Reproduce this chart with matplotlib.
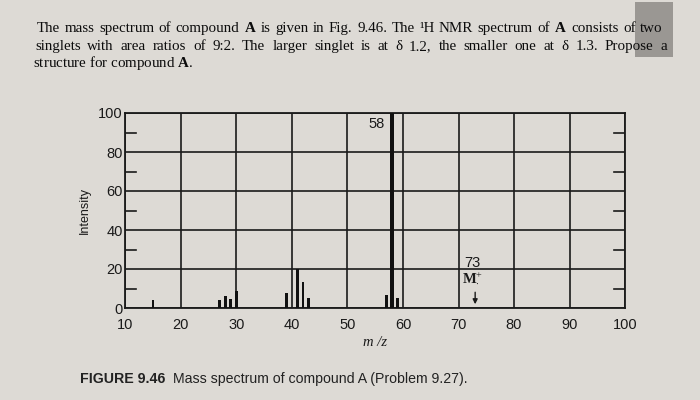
import matplotlib
matplotlib.use("Agg")
import matplotlib.pyplot as plt
from matplotlib.patches import Rectangle

# ---- data ----
mz = [15, 27, 28, 29, 30, 39, 41, 42, 43, 57, 58, 59]
intensity = [4, 4, 6, 4.5, 8.5, 7.5, 20, 13.5, 5, 6.5, 100, 5]
x_ticks = [10, 20, 30, 40, 50, 60, 70, 80, 90, 100]
y_ticks = [0, 20, 40, 60, 80, 100]
minor_y = [10, 30, 50, 70, 90]
mol_ion = 73
base_peak = 58

plt.rcParams['mathtext.fontset'] = 'custom'
plt.rcParams['mathtext.rm'] = 'Liberation Serif'
plt.rcParams['mathtext.bf'] = 'Liberation Serif:bold'
plt.rcParams['mathtext.it'] = 'Liberation Serif:italic'

bg = '#dddad5'
W, H = 700, 400
fig = plt.figure(figsize=(7, 4), dpi=100, facecolor=bg)
renderer = fig.canvas.get_renderer()

# scan smudge at top right
fig.patches.append(Rectangle((635/W, 1-57/H), 38/W, 55/H,
                             transform=fig.transFigure, facecolor='#9a9793',
                             edgecolor='none', zorder=0))

serif = 'Liberation Serif'
fs = 10.8
txtcol = '#0c0c0c'


def justified(line, x0, x1, ybase):
    words = line.split(' ')
    objs = [fig.text(0, 1-ybase/H, w, family=serif, fontsize=fs,
                     va='baseline', ha='left', color=txtcol) for w in words]
    widths = [o.get_window_extent(renderer).width for o in objs]
    gap = ((x1 - x0) - sum(widths)) / (len(words) - 1)
    x = x0
    for o, wdt in zip(objs, widths):
        o.set_x(x / W)
        x += wdt + gap


justified(r"The mass spectrum of compound $\mathbf{A}$ is given in Fig. 9.46. The ¹H NMR spectrum of $\mathbf{A}$ consists of two",
          37, 663, 32)
justified("singlets with area ratios of 9:2. The larger singlet is at δ 1.2, the smaller one at δ 1.3. Propose a",
          35, 667, 50)
fig.text(33/W, 1-67/H, r"structure for compound $\mathbf{A}$.",
         family=serif, fontsize=fs, va='baseline', ha='left', color=txtcol)

ax = fig.add_axes([0.179, 0.23, 0.714, 0.4875])
ax.set_facecolor(bg)
ax.set_xlim(10, 100)
ax.set_ylim(0, 100)

for x in x_ticks:
    ax.axvline(x, color='#1a1a1a', lw=1.2, zorder=1)
for y in y_ticks:
    ax.axhline(y, color='#1a1a1a', lw=1.2, zorder=1)

widths = [0.8 if m == base_peak else 0.5 for m in mz]
ax.bar(mz, intensity, width=widths, color='#111111', zorder=3)

# minor ticks inside on both sides
for y in minor_y:
    ax.plot([10, 12], [y, y], color='#1a1a1a', lw=1.2, zorder=2)
    ax.plot([98, 100], [y, y], color='#1a1a1a', lw=1.2, zorder=2)

for s in ax.spines.values():
    s.set_color('#1a1a1a')
    s.set_linewidth(1.3)

sans = 'Liberation Sans'
ax.set_xticks(x_ticks)
ax.set_yticks(y_ticks)
ax.tick_params(axis='x', length=0, labelsize=10.5, colors='#1a1a1a', pad=7)
ax.tick_params(axis='y', length=0, labelsize=10.5, colors='#1a1a1a', pad=2)
for lab in ax.get_xticklabels() + ax.get_yticklabels():
    lab.set_family(sans)

ax.text(base_peak - 1.3, 98, str(base_peak), ha='right', va='top',
        family=sans, fontsize=10.5, color='#1a1a1a')

ax.text(mol_ion - 0.5, 23, str(mol_ion), ha='center', va='center',
        family=sans, fontsize=10.5, color='#1a1a1a')
ax.text(mol_ion - 0.5, 15, r"$\mathbf{M}^{+}_{\mathbf{\cdot}}$", ha='center', va='center',
        family=serif, fontsize=10.5, color='#1a1a1a')
ax.annotate('', xy=(mol_ion, 0.5), xytext=(mol_ion, 9.5),
            arrowprops=dict(arrowstyle='-|>', color='#1a1a1a', lw=1,
                            mutation_scale=7))

ax.set_xlabel('m /z', family=serif, style='italic', fontsize=10.5,
              color='#1a1a1a', labelpad=3)
ax.set_ylabel('Intensity', family=sans, fontsize=9, color='#1a1a1a',
              labelpad=5)

fig.text(80/W, 1-383/H, "FIGURE 9.46", family=sans, weight='bold',
         fontsize=10.2, va='baseline', ha='left', color='#222222')
fig.text(173/W, 1-383/H, "Mass spectrum of compound A (Problem 9.27).",
         family=sans, fontsize=10.2, va='baseline', ha='left', color='#222222')

fig.savefig('out.png', dpi=100, facecolor=bg)
